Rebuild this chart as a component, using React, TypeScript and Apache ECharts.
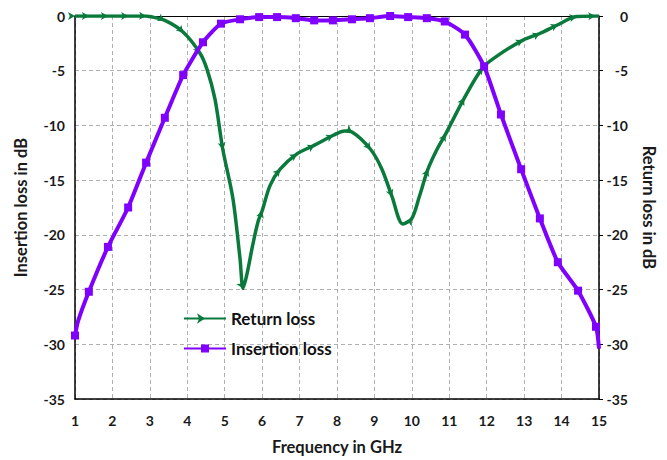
import React, { useEffect, useRef } from "react";
import * as echarts from "echarts";

const yTicks = [0, -5, -10, -15, -20, -25, -30, -35];
const xTicks = [1, 2, 3, 4, 5, 6, 7, 8, 9, 10, 11, 12, 13, 14, 15];

// Return loss (dB) vs frequency (GHz); 1 = marker drawn at this point
const rlFreq = [1.0, 1.37, 1.88, 2.42, 2.9, 3.0, 3.4, 3.9, 4.34, 4.53, 4.74, 4.95, 5.22, 5.41, 5.49, 5.6, 5.75, 5.89, 6.0, 6.21, 6.48, 6.93, 7.4, 7.9, 8.2, 8.4, 8.9, 9.2, 9.47, 9.76, 10.0, 10.2, 10.43, 10.67, 10.9, 11.4, 11.9, 12.3, 12.97, 13.42, 13.9, 14.4, 14.9, 15.0];
const rlValue = [0, 0, 0, 0, 0, -0.05, -0.4, -1.5, -3.4, -4.9, -7.6, -12.2, -16.7, -22.2, -24.9, -23.5, -20.9, -18.8, -17.8, -15.5, -14.0, -12.6, -11.8, -10.9, -10.5, -10.6, -12.2, -14.0, -16.5, -19.0, -18.5, -16.5, -14.0, -12.2, -10.8, -7.5, -4.7, -3.6, -2.2, -1.6, -0.8, -0.05, 0, 0];
const rlMarked = [1, 1, 1, 1, 1, 0, 1, 1, 1, 0, 0, 1, 0, 0, 1, 0, 0, 0, 1, 0, 1, 1, 1, 1, 0, 1, 1, 0, 1, 0, 1, 0, 1, 0, 1, 1, 1, 0, 1, 1, 1, 1, 1, 0];

// Insertion loss (dB) vs frequency (GHz)
const ilFreq = [1.0, 1.08, 1.37, 1.88, 2.42, 2.9, 3.4, 3.89, 4.42, 4.9, 5.41, 5.92, 6.4, 6.9, 7.39, 7.89, 8.4, 8.88, 9.42, 9.9, 10.4, 10.88, 11.42, 11.93, 12.38, 12.92, 13.42, 13.9, 14.44, 14.92, 15.0];
const ilValue = [-29.2, -27.9, -25.2, -21.1, -17.5, -13.4, -9.3, -5.4, -2.4, -0.7, -0.3, -0.1, -0.1, -0.2, -0.4, -0.4, -0.3, -0.2, 0, -0.1, -0.2, -0.5, -1.7, -4.6, -9.0, -14.0, -18.5, -22.5, -25.1, -28.4, -30.4];
const ilMarked = [1, 0, 1, 1, 1, 1, 1, 1, 1, 1, 1, 1, 1, 1, 1, 1, 1, 1, 1, 1, 1, 1, 1, 1, 1, 1, 1, 1, 1, 1, 0];

const FONT = "Lato, 'Open Sans', sans-serif";
const TXT = "#1a1a1a";

export default function App() {
  const ref = useRef<HTMLDivElement>(null);
  useEffect(() => {
    if (!ref.current) return;
    const chart = echarts.init(ref.current, undefined, { renderer: "svg" });
    // pixel scales (approx) used only to orient arrow markers along the curve
    const pxPerX = 524 / 14;
    const pxPerY = 385 / 35;
    const rlData = rlFreq.map((f, i) => {
      const a = Math.max(0, i - 1);
      const b = Math.min(rlFreq.length - 1, i + 1);
      const dx = (rlFreq[b] - rlFreq[a]) * pxPerX;
      const dy = (rlValue[b] - rlValue[a]) * pxPerY;
      const ang = (Math.atan2(dy, dx) * 180) / Math.PI;
      return {
        value: [f, rlValue[i]],
        symbol: rlMarked[i] ? "arrow" : "none",
        symbolRotate: ang - 90,
        symbolSize: [6, 7],
      };
    });
    const ilData = ilFreq.map((f, i) => ({
      value: [f, ilValue[i]],
      symbol: ilMarked[i] ? "rect" : "none",
    }));
    const yAxisBase = {
      type: "value",
      min: -35,
      max: 0,
      interval: 5,
      nameLocation: "middle",
      nameTextStyle: { fontFamily: FONT, fontSize: 16.5, fontWeight: "bold", color: TXT },
      axisLine: { show: true, lineStyle: { color: "#000", width: 1.5 } },
      splitLine: { show: true, lineStyle: { color: "#b0b0b0", type: [4, 3], width: 1 } },
    };
    chart.setOption({
      animation: false,
      backgroundColor: "#fff",
      grid: {
        left: 75,
        right: 68,
        top: 16,
        bottom: 59,
      },
      legend: {
        orient: "vertical",
        left: 183,
        top: 310,
        padding: 0,
        itemWidth: 42,
        itemHeight: 10,
        itemGap: 13,
        textStyle: { fontFamily: FONT, fontSize: 17, fontWeight: "bold", color: "#111" },
        data: ["Return loss", "Insertion loss"],
      },
      xAxis: [
        {
          type: "value",
          min: 1,
          max: 15,
          interval: 1,
          name: "Frequency in GHz",
          nameLocation: "middle",
          nameGap: 39,
          nameTextStyle: { fontFamily: FONT, fontSize: 16.5, fontWeight: "bold", color: TXT },
          axisLine: { show: true, onZero: false, lineStyle: { color: "#000", width: 1.5 } },
          axisTick: { show: false },
          axisLabel: { fontFamily: FONT, fontSize: 14, fontWeight: "bold", color: TXT, margin: 14 },
          splitLine: { show: true, lineStyle: { color: "#b0b0b0", type: [4, 3], width: 1 } },
        },
        {
          type: "value",
          position: "top",
          min: 1,
          max: 15,
          interval: 1,
          axisLine: { show: true, onZero: false, lineStyle: { color: "#000", width: 1 } },
          axisTick: { show: false },
          axisLabel: { show: false },
          splitLine: { show: false },
        },
      ],
      yAxis: [
        {
          ...yAxisBase,
          position: "left",
          name: "Insertion loss in dB",
          nameGap: 46,
          nameRotate: 90,
          axisTick: { show: false },
          axisLabel: { fontFamily: FONT, fontSize: 14, fontWeight: "bold", color: TXT, margin: 10 },
        },
        {
          ...yAxisBase,
          position: "right",
          name: "Return loss in dB",
          nameGap: 41,
          nameRotate: -90,
          axisTick: { show: true, length: 4, inside: false, lineStyle: { color: "#000" } },
          axisLabel: { fontFamily: FONT, fontSize: 14, fontWeight: "bold", color: TXT, margin: 29, align: "right" },
        },
      ],
      series: [
        {
          name: "Return loss",
          type: "line",
          yAxisIndex: 1,
          data: rlData,
          symbol: "arrow",
          symbolSize: [7, 9],
          symbolRotate: -90,
          showAllSymbol: true,
          smooth: 0.3,
          color: "#0a7a3c",
          lineStyle: { width: 3.5, color: "#0a7a3c" },
          itemStyle: { color: "#0a7a3c" },
          z: 3,
        },
        {
          name: "Insertion loss",
          type: "line",
          yAxisIndex: 0,
          data: ilData,
          symbol: "rect",
          symbolSize: 8,
          showAllSymbol: true,
          smooth: 0.2,
          color: "#7f00ff",
          lineStyle: { width: 4, color: "#7f00ff" },
          itemStyle: { color: "#7f00ff" },
          z: 4,
        },
      ],
    });
    return () => chart.dispose();
  }, []);
  return (
    <div
      ref={ref}
      style={{ position: "fixed", left: 0, top: 0, width: 667, height: 460 }}
    />
  );
}
